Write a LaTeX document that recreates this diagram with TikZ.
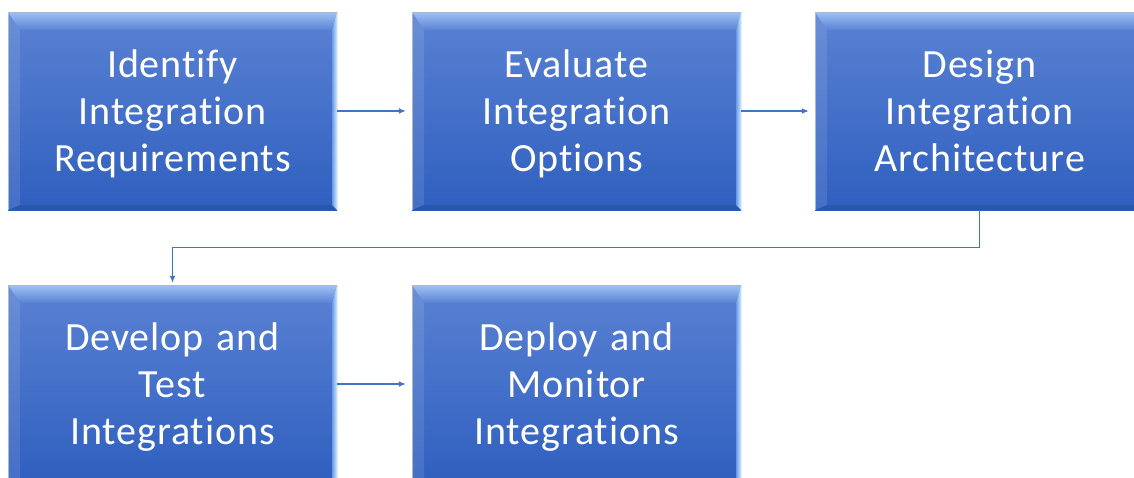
\documentclass[tikz,border=0pt]{standalone}
\usepackage{fontspec}
\setmainfont{Carlito}[LetterSpace=2.2,Ligatures=NoCommon]
\usetikzlibrary{arrows.meta,calc}
\definecolor{boxtop}{HTML}{5A82D3}
\definecolor{boxbot}{HTML}{2F5FBF}
\definecolor{bevlight}{HTML}{9EC2F4}
\definecolor{bevrightA}{HTML}{6A9AE6}
\definecolor{bevrightB}{HTML}{D2ECFF}
\definecolor{linkblue}{HTML}{4472C4}
\definecolor{edgegray}{HTML}{AEB8CA}
\newcommand{\lastln}[1]{\raisebox{0pt}[\height][0pt]{#1}}
\tikzset{
  stepbox/.style={
    minimum width=329pt, minimum height=198pt, inner sep=0pt,
    text width=320pt, align=center, text=white,
    font=\fontsize{40}{47}\selectfont,
    top color=boxtop, bottom color=boxbot, draw=none,
    path picture={
      \path (path picture bounding box.south west) coordinate (sw)
            (path picture bounding box.north east) coordinate (ne)
            (path picture bounding box.north west) coordinate (nw)
            (path picture bounding box.south east) coordinate (se);
      % left bevel
      \fill[white, opacity=0.10] (nw) -- ($(nw)+(12,18)$) -- ($(sw)+(12,-5)$) -- (sw) -- cycle;
      % bottom bevel
      \fill[black, opacity=0.10] (sw) -- ($(sw)+(12,-5)$) -- ($(se)+(-5,-5)$) -- (se) -- cycle;
      % top bevel
      \shade[top color=bevlight, bottom color=boxtop] (nw) -- (ne) -- ($(ne)+(-5,18)$) -- ($(nw)+(12,18)$) -- cycle;
      % right bevel
      \shade[left color=bevrightA, right color=bevrightB] (ne) -- ($(ne)+(-5,18)$) -- ($(se)+(-5,-5)$) -- (se) -- cycle;
      % thin outer edge at top and left
      \draw[edgegray, line width=1.2pt] (sw) -- (nw) -- (ne);
    }
  },
  link/.style={draw=linkblue, line width=1.3pt, -{Latex[length=7pt,width=6pt]}, shorten >=6pt},
}
\begin{document}
\begin{tikzpicture}[x=1pt,y=-1pt]
  \clip (0,0) rectangle (1134,477);
  \fill[white] (0,0) rectangle (1134,477);
  \node[stepbox] (b1) at (172.5,111) {Identify\\Integration\\\lastln{Requirements}};
  \node[stepbox] (b2) at (576.5,111) {Evaluate\\Integration\\\lastln{Options}};
  \node[stepbox] (b3) at (979.5,111) {Design\\Integration\\\lastln{Architecture}};
  \node[stepbox] (b4) at (172.5,384) {Develop and\\Test\\\lastln{Integrations}};
  \node[stepbox] (b5) at (576.5,384) {Deploy and\\Monitor\\\lastln{Integrations}};
  \draw[link] (b1.east) -- (b2.west);
  \draw[link] (b2.east) -- (b3.west);
  \draw[link] (b4.east) -- (b5.west);
  \draw[link, shorten >=2pt] (b3.south) -- ++(0,37) -| (b4.north);
\end{tikzpicture}
\end{document}
